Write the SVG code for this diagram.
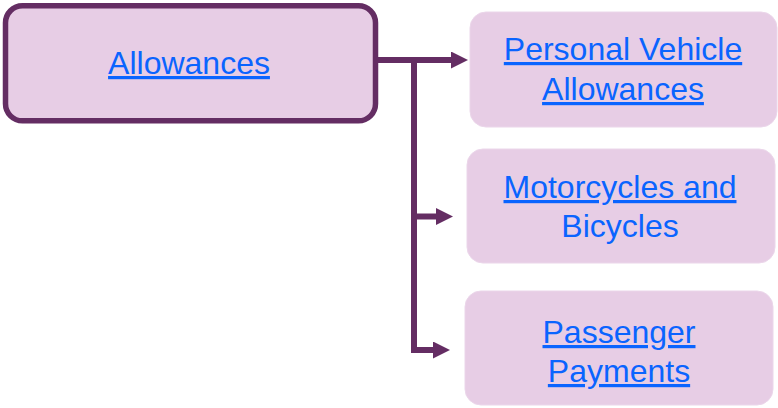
<svg xmlns="http://www.w3.org/2000/svg" width="778" height="408" viewBox="0 0 778 408">
  <style>
    .main { fill: #E7CDE5; stroke: #642D63; stroke-width: 5.5; }
    .child { fill: #E7CDE5; stroke: #EBD6EA; stroke-width: 1; }
    .lbl { font-family: "Liberation Sans", Arial, sans-serif; font-size: 32px; fill: #0A64FF; text-anchor: middle; }
    .u { text-decoration: underline; }
    .conn { stroke: #642D63; stroke-width: 6; fill: none; }
  </style>
  <defs>
    <marker id="arrow" markerUnits="userSpaceOnUse" markerWidth="18" markerHeight="18" refX="0" refY="8.5" orient="auto">
      <path d="M0,0 L17,8.5 L0,17 Z" fill="#642D63"/>
    </marker>
  </defs>
  <g id="node-allowances">
    <rect class="main" x="5.5" y="5.8" width="370" height="115" rx="17"/>
    <text class="lbl u" x="189" y="74">Allowances</text>
  </g>
  <g id="node-personal-vehicle">
    <rect class="child" x="470" y="12" width="307" height="115" rx="16"/>
    <text class="lbl u" x="623" y="60">Personal Vehicle</text>
    <text class="lbl u" x="623" y="100">Allowances</text>
  </g>
  <g id="node-motorcycles">
    <rect class="child" x="467" y="149" width="308" height="114" rx="16"/>
    <text class="lbl u" x="620" y="198">Motorcycles and</text>
    <text class="lbl" x="620" y="237">Bicycles</text>
  </g>
  <g id="node-passenger">
    <rect class="child" x="465" y="291" width="308" height="114" rx="16"/>
    <text class="lbl u" x="619" y="343">Passenger</text>
    <text class="lbl u" x="619" y="382">Payments</text>
  </g>
  <g id="connectors">
    <path class="conn" d="M378,60 L451,60" marker-end="url(#arrow)"/>
    <path class="conn" d="M414,57 L414,353"/>
    <path class="conn" d="M411,216.5 L436,216.5" marker-end="url(#arrow)"/>
    <path class="conn" d="M411,350 L433,350" marker-end="url(#arrow)"/>
  </g>
</svg>
